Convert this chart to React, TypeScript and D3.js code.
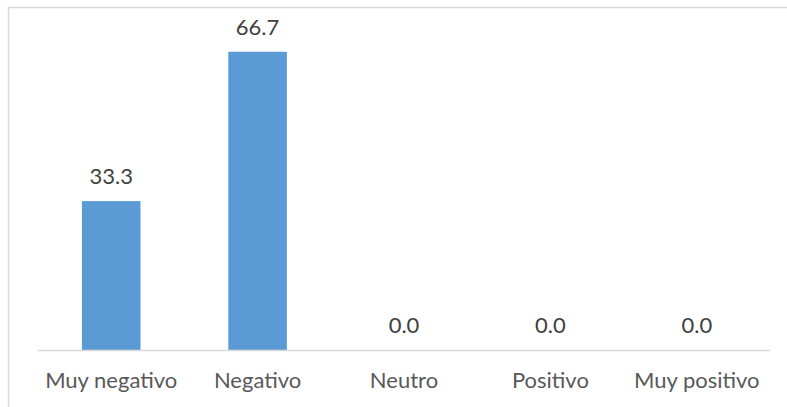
import * as d3 from 'd3'

const categories = ['Muy negativo', 'Negativo', 'Neutro', 'Positivo', 'Muy positivo']
const values = [33.3, 66.7, 0.0, 0.0, 0.0]
const yDomain = [0, 70]

export default function App() {
  const width = 787
  const height = 407
  const plot = { left: 38, right: 770, top: 37, bottom: 350 }
  const font = 'Lato, "Noto Sans", sans-serif'

  const x = d3
    .scaleBand<string>()
    .domain(categories)
    .range([plot.left, plot.right])
    .paddingInner(0.6)
    .paddingOuter(0.3)

  const y = d3.scaleLinear().domain(yDomain).range([plot.bottom, plot.top])

  return (
    <svg
      width={width}
      height={height}
      style={{ position: 'absolute', left: 0, top: 0, background: '#fff' }}
    >
      <rect x={0} y={0} width={width} height={height} fill="#fff" />
      {/* chart frame (cropped on right and bottom) */}
      <path d={`M8.5,${height} V7.5 H${width}`} fill="none" stroke="#d9d9d9" strokeWidth={1.5} />

      {categories.map((cat, i) => {
        const bx = x(cat) ?? 0
        const top = y(values[i])
        const cx = bx + x.bandwidth() / 2
        return (
          <g key={cat}>
            {values[i] > 0 && (
              <rect x={bx} y={top} width={x.bandwidth()} height={plot.bottom - top} fill="#5b9bd5" />
            )}
            <text
              x={cx}
              y={top - 17}
              textAnchor="middle"
              fontFamily={font}
              fontSize={22}
              fill="#404040"
            >
              {d3.format('.1f')(values[i])}
            </text>
            <text
              x={cx}
              y={388}
              textAnchor="middle"
              fontFamily={font}
              fontSize={22}
              fill="#595959"
            >
              {cat}
            </text>
          </g>
        )
      })}

      <line
        x1={plot.left}
        x2={plot.right}
        y1={plot.bottom + 0.5}
        y2={plot.bottom + 0.5}
        stroke="#d9d9d9"
        strokeWidth={1.5}
      />
    </svg>
  )
}
